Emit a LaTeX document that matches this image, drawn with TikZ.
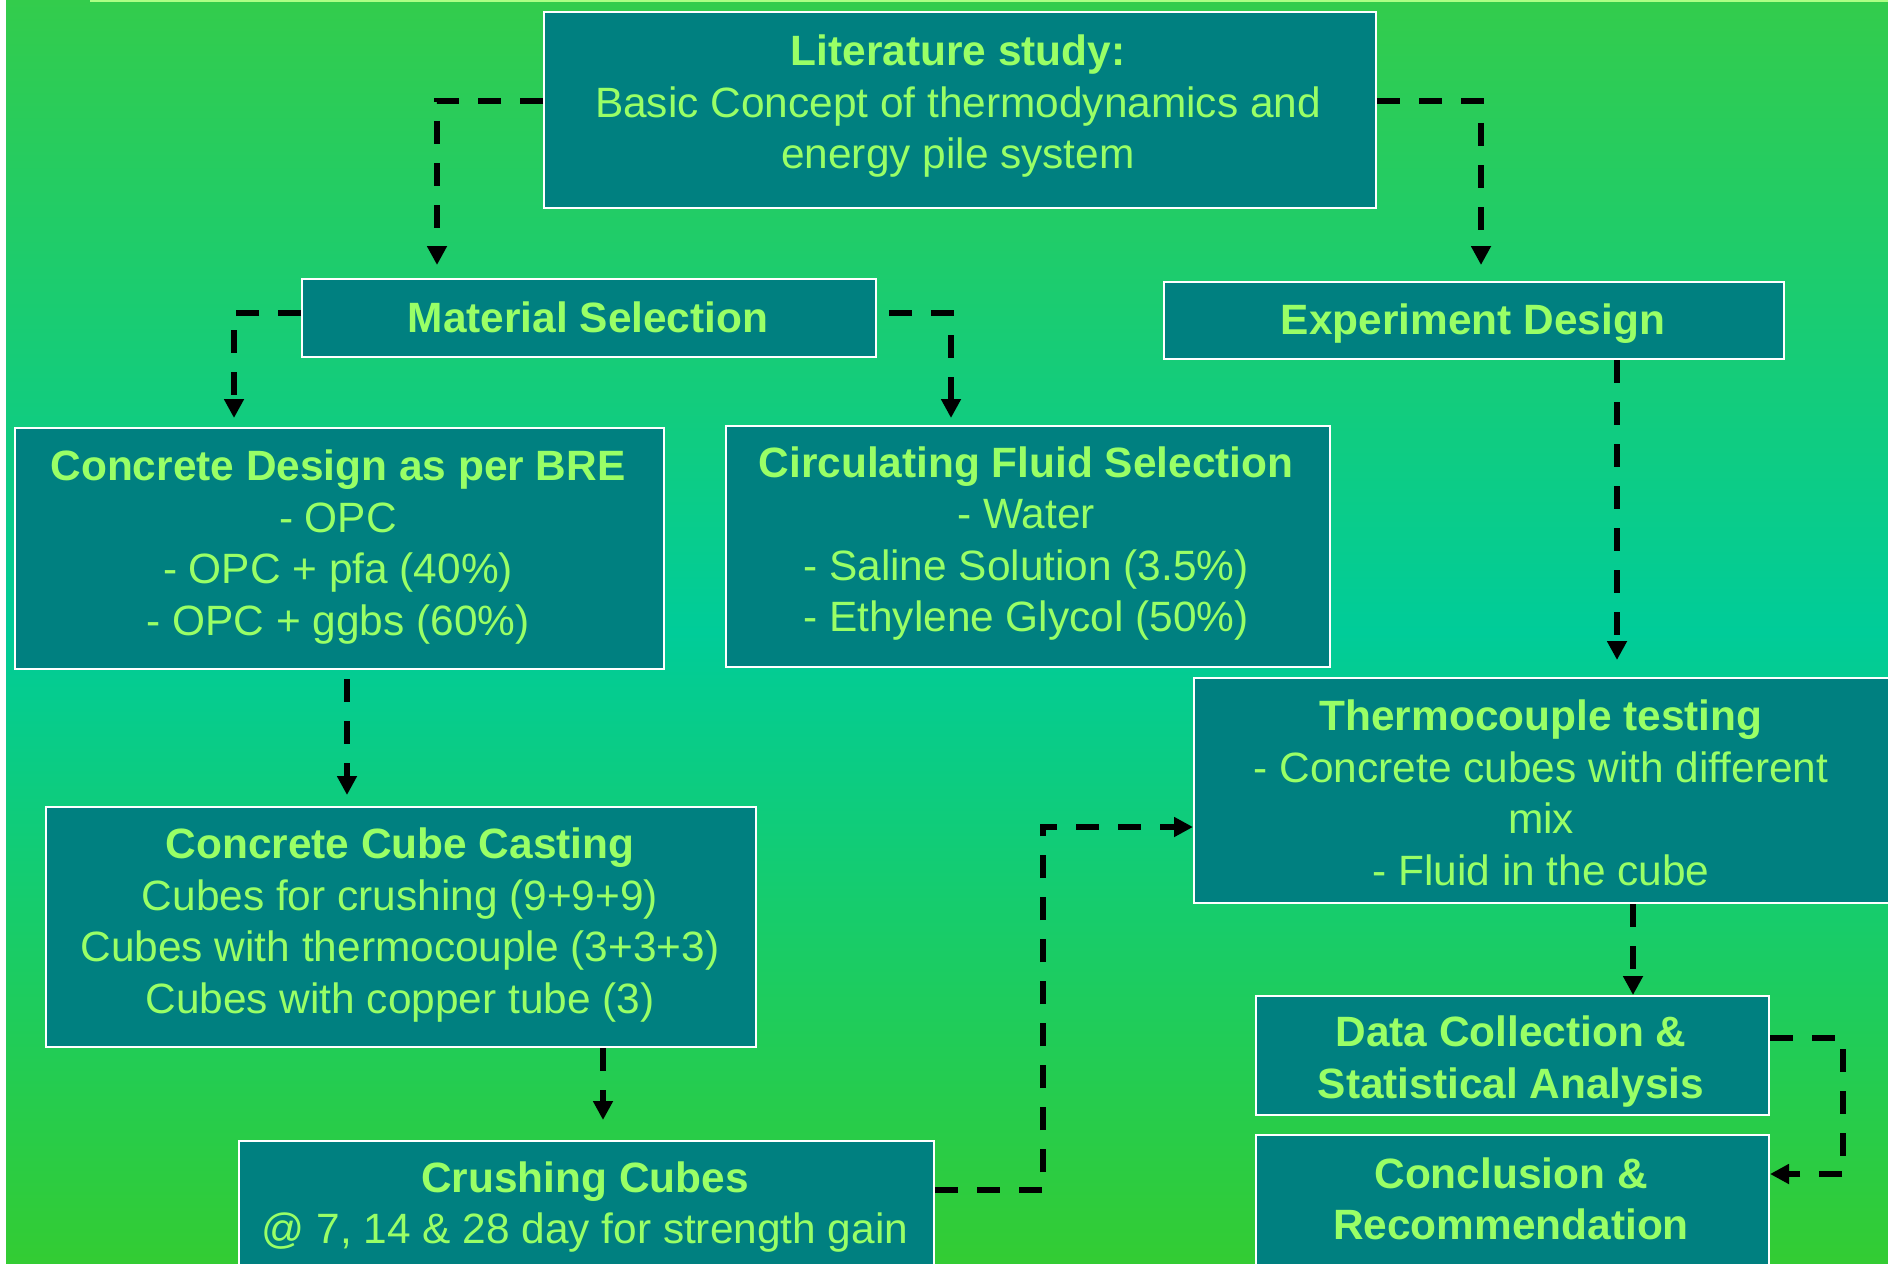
\documentclass[tikz,border=0pt]{standalone}
\usepackage{fontspec}
\setmainfont{Liberation Sans}
\usetikzlibrary{arrows.meta}
\definecolor{bgtop}{RGB}{51,204,76}
\definecolor{bgmid}{RGB}{0,204,153}
\definecolor{bgbot}{RGB}{51,204,51}
\definecolor{boxfill}{RGB}{0,128,128}
\definecolor{txtc}{RGB}{153,255,102}
\newcommand\mystrut{\rule[-0.13em]{0pt}{1.07em}}
\begin{document}
\begin{tikzpicture}[x=0.5pt,y=-0.5pt,
  box/.style={draw=white, line width=1pt, fill=boxfill, inner sep=0pt, anchor=north west},
  lbl/.style={text=txtc, font=\fontsize{21.2}{25.75}\selectfont, align=center, inner sep=0pt, anchor=center},
  arr/.style={draw=black, line width=3pt, dash pattern=on 11.5pt off 9.5pt, -{Triangle[length=9.5pt,width=9.5pt]}}]
\useasboundingbox (0,0) rectangle (1888,1263);
\clip (0,0) rectangle (1888,1263);
% background
\fill[white] (0,0) rectangle (1888,1263);
\shade[top color=bgtop, bottom color=bgmid] (6,0) rectangle (1888,632);
\shade[top color=bgmid, bottom color=bgbot] (6,631) rectangle (1888,1263);
\fill[txtc!80!white] (90,0) rectangle (1888,2);
% boxes
\node[box, minimum width=416pt, minimum height=98pt] (lit) at (543,11) {};
\node[box, minimum width=287pt, minimum height=39pt] (mat) at (301,278) {};
\node[box, minimum width=310pt, minimum height=38.5pt] (exp) at (1163,281) {};
\node[box, minimum width=324.5pt, minimum height=120.5pt] (cd) at (14,427) {};
\node[box, minimum width=302pt, minimum height=120.5pt] (cf) at (725,425) {};
\node[box, minimum width=353.5pt, minimum height=112.5pt] (th) at (1193,677) {};
\node[box, minimum width=355pt, minimum height=120pt] (cc) at (45,806) {};
\node[box, minimum width=347.5pt, minimum height=85pt] (cr) at (238,1140) {};
\node[box, minimum width=256.5pt, minimum height=59.5pt] (dc) at (1255,995) {};
\node[box, minimum width=256.5pt, minimum height=85pt] (co) at (1255,1134) {};
% texts
\node[lbl] (litT) at (958,101.8) {\mystrut\textbf{Literature study:}\\\mystrut Basic Concept of thermodynamics and\\\mystrut energy pile system};
\node[lbl] (matT) at (588,315.5) {\mystrut\textbf{Material Selection}};
\node[lbl] (expT) at (1473,319) {\mystrut\textbf{Experiment Design}};
\node[lbl] (cdT) at (338,542.5) {\mystrut\textbf{Concrete Design as per BRE}\\\mystrut - OPC\\\mystrut - OPC + pfa (40\%)\\\mystrut - OPC + ggbs (60\%)};
\node[lbl] (cfT) at (1026,539) {\mystrut\textbf{Circulating Fluid Selection}\\\mystrut - Water\\\mystrut - Saline Solution (3.5\%)\\\mystrut - Ethylene Glycol (50\%)};
\node[lbl] (thT) at (1541,791) {\mystrut\textbf{Thermocouple testing}\\\mystrut - Concrete cubes with different\\\mystrut mix\\\mystrut - Fluid in the cube};
\node[lbl] (ccT) at (400,920.5) {\mystrut\textbf{Concrete Cube Casting}\\\mystrut Cubes for crushing (9+9+9)\\\mystrut Cubes with thermocouple (3+3+3)\\\mystrut Cubes with copper tube (3)};
\node[lbl] (crT) at (585,1202.5) {\mystrut\textbf{Crushing Cubes}\\\mystrut @ 7, 14 \& 28 day for strength gain};
\node[lbl] (dcT) at (1511,1057) {\mystrut\textbf{Data Collection \&}\\\mystrut\textbf{Statistical Analysis}};
\node[lbl] (coT) at (1511,1197) {\mystrut\textbf{Conclusion \&}\\\mystrut\textbf{Recommendation}};
% connectors
\draw[arr, shorten >=6.5pt] (lit.west |- 0,101) -| (mat.north -| 437,0);
\draw[arr, shorten >=8pt] (lit.east |- 0,101) -| (exp.north -| 1481,0);
\draw[arr, shorten >=4.5pt] (mat.west |- 0,313) -| (cd.north -| 234,0);
\draw[arr, shorten <=6pt, shorten >=3.5pt] (mat.east |- 0,313) -| (cf.north -| 951,0);
\draw[arr, shorten >=8.5pt] (exp.south -| 1617,0) -- (th.north -| 1617,0);
\draw[arr, shorten <=4.5pt, shorten >=5.5pt] (cd.south -| 347,0) -- (cc.north -| 347,0);
\draw[arr, shorten >=10pt] (cc.south -| 603,0) -- (cr.north -| 603,0);
\draw[arr] (cr.east |- 0,1190) -| (1043,827) -- (th.west |- 0,827);
\draw[arr] (th.south -| 1633,0) -- (dc.north -| 1633,0);
\draw[arr] (dc.east |- 0,1038) -| (1843,1174) -- (co.east |- 0,1174);
\end{tikzpicture}
\end{document}
